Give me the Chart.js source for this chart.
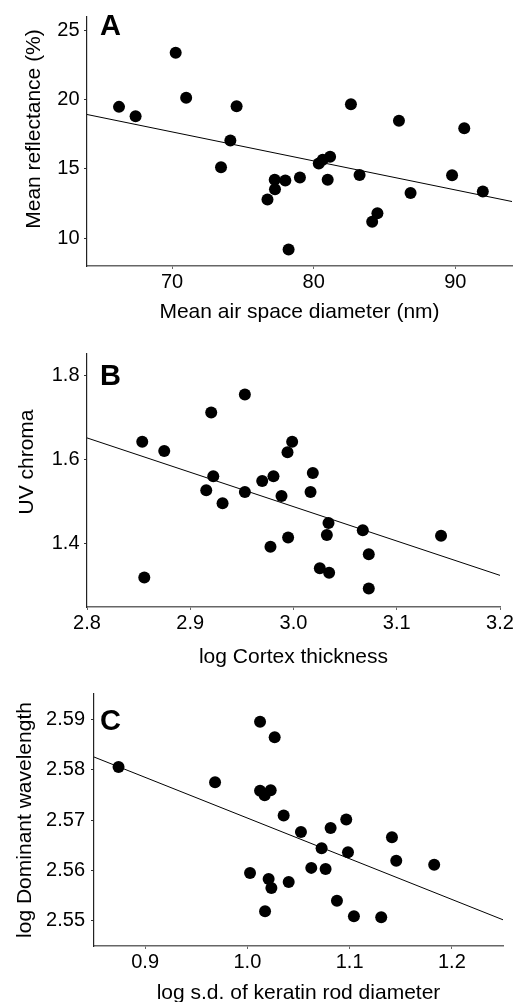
<!DOCTYPE html>
<html>
<head>
<meta charset="utf-8">
<script src="https://cdn.jsdelivr.net/npm/chart.js@4"></script>
<style>
  html, body { margin: 0; padding: 0; background: #fff; overflow: hidden; }
  body { width: 524px; height: 1002px; position: relative; }
  .panel { position: absolute; left: 0; }
  .letter { position: absolute; left: 100px; font: bold 29px "Liberation Sans", Arial, sans-serif; line-height: 1; color: #000; }
  .ytitle { position: absolute; font: 21px "Liberation Sans", Arial, sans-serif; line-height: 1; color: #000;
            white-space: nowrap; transform: translate(-50%, -50%) rotate(-90deg); }
</style>
</head>
<body>
<div class="panel" id="wrapA" style="top:0px"><canvas id="chartA"></canvas></div>
<div class="panel" id="wrapB" style="top:330px"><canvas id="chartB"></canvas></div>
<div class="panel" id="wrapC" style="top:670px"><canvas id="chartC"></canvas></div>
<div class="letter" style="top:11px">A</div>
<div class="letter" style="top:361px">B</div>
<div class="letter" style="top:706px">C</div>
<div class="ytitle" style="left:32px; top:129px">Mean reflectance (%)</div>
<div class="ytitle" style="left:25px; top:462px">UV chroma</div>
<div class="ytitle" style="left:23px; top:820px">log Dominant wavelength</div>
<script>
// Panel A - reflectance vs air space diameter
const airSpace = [66.26, 67.43, 70.26, 71.0, 74.56, 74.12, 73.46, 77.25, 77.27, 76.74, 78.0, 78.23, 79.03,
  80.36, 80.64, 81.16, 80.99, 82.63, 83.24, 84.13, 84.5, 86.02, 86.84, 89.77, 90.63, 91.94];
const reflectance = [19.48, 18.81, 23.38, 20.14, 19.52, 17.05, 15.12, 14.22, 13.53, 12.79, 14.17, 9.19, 14.39,
  15.4, 15.66, 15.88, 14.22, 19.67, 14.57, 11.19, 11.81, 18.48, 13.27, 14.55, 17.93, 13.38];
const fitA = [{ x: 64, y: 18.93 }, { x: 94, y: 12.65 }];
const ticksAX = [70, 80, 90];
const ticksAY = [10, 15, 20, 25];

// Panel B - UV chroma vs log cortex thickness
const cortex = [2.8535, 2.8748, 2.8555, 2.9203, 2.9529, 2.9223, 2.9155, 2.9313, 2.9529, 2.9697, 2.9806, 2.9777, 2.9884,
  2.9942, 2.9987, 2.9948, 3.0187, 3.0165, 3.0339, 3.0323, 3.0255, 3.0345, 3.0671, 3.0729, 3.0729, 3.1429];
const uvChroma = [1.642, 1.62, 1.32, 1.711, 1.754, 1.56, 1.527, 1.496, 1.523, 1.549, 1.56, 1.393, 1.513,
  1.617, 1.642, 1.415, 1.568, 1.523, 1.449, 1.421, 1.342, 1.331, 1.432, 1.375, 1.294, 1.419];
const fitB = [{ x: 2.8, y: 1.651 }, { x: 3.2, y: 1.325 }];
const ticksBX = ['2.8', '2.9', '3.0', '3.1', '3.2'];
const ticksBY = ['1.4', '1.6', '1.8'];

// Panel C - log dominant wavelength vs log s.d. of keratin rod diameter
const rodSd = [0.874, 0.9684, 1.0124, 1.0267, 1.0124, 1.0169, 1.0228, 1.0355, 1.0524, 1.0814, 1.0967, 1.0726, 1.0984,
  1.1414, 1.1456, 1.1827, 1.0026, 1.0208, 1.0235, 1.0404, 1.0625, 1.0765, 1.0173, 1.0876, 1.1042, 1.1309];
const domWave = [2.5805, 2.5775, 2.5895, 2.5864, 2.5758, 2.5749, 2.5759, 2.5709, 2.5676, 2.5684, 2.5701, 2.5644, 2.5636,
  2.5666, 2.5619, 2.5611, 2.5595, 2.5583, 2.5565, 2.5577, 2.5605, 2.5603, 2.5519, 2.554, 2.5509, 2.5507];
const fitC = [{ x: 0.85, y: 2.5825 }, { x: 1.25, y: 2.5502 }];
const ticksCX = ['0.9', '1.0', '1.1', '1.2'];
const ticksCY = ['2.55', '2.56', '2.57', '2.58', '2.59'];

const FONT = '"Liberation Sans", Arial, sans-serif';

function makePanel(id, p) {
  const canvas = document.getElementById(id);
  canvas.style.width = '524px';
  canvas.style.height = p.height + 'px';
  canvas.width = 524;
  canvas.height = p.height;

  const points = p.xs.map((x, i) => ({ x: x, y: p.ys[i] }));
  const xTickVals = p.xTicks.map(Number);
  const yTickVals = p.yTicks.map(Number);

  new Chart(canvas, {
    type: 'scatter',
    data: {
      datasets: [
        {
          data: points,
          backgroundColor: '#000',
          borderColor: '#000',
          borderWidth: 0,
          pointRadius: 6,
          pointHoverRadius: 6,
          order: 1,
        },
        {
          type: 'line',
          data: p.fit,
          borderColor: '#000',
          borderWidth: 1,
          pointRadius: 0,
          fill: false,
          order: 0,
        },
      ],
    },
    options: {
      responsive: false,
      animation: false,
      devicePixelRatio: 1,
      layout: {
        padding: { top: p.top, right: 524 - p.right, bottom: 0, left: 0 },
      },
      plugins: { legend: { display: false }, tooltip: { enabled: false } },
      scales: {
        x: {
          type: 'linear',
          min: p.xMin,
          max: p.xMax,
          afterBuildTicks: (s) => { s.ticks = xTickVals.map((v) => ({ value: v })); },
          afterFit: (s) => { s.height = p.height - p.bottom; },
          ticks: {
            color: '#000',
            font: { family: FONT, size: 20 },
            padding: 1,
            maxRotation: 0,
            autoSkip: false,
            callback: (v, i) => p.xTicks[i],
          },
          grid: { drawOnChartArea: false, drawTicks: true, tickLength: 3, color: '#666' },
          border: { color: '#666', width: 1.5 },
          title: {
            display: true,
            text: p.xTitle,
            color: '#000',
            font: { family: FONT, size: 21 },
            padding: { top: 0, bottom: p.xTitlePad },
          },
        },
        y: {
          type: 'linear',
          min: p.yMin,
          max: p.yMax,
          afterBuildTicks: (s) => { s.ticks = yTickVals.map((v) => ({ value: v })); },
          afterFit: (s) => { s.width = p.left; },
          ticks: {
            color: '#000',
            font: { family: FONT, size: 20 },
            padding: p.yTickPad,
            autoSkip: false,
            callback: (v, i) => p.yTicks[i],
          },
          grid: { drawOnChartArea: false, drawTicks: true, tickLength: 3, color: '#333' },
          border: { color: '#222', width: 1.2 },
          title: { display: false },
        },
      },
    },
  });
}

makePanel('chartA', {
  xs: airSpace, ys: reflectance, fit: fitA,
  xTicks: ticksAX, yTicks: ticksAY,
  xMin: 64, xMax: 94, yMin: 8, yMax: 26,
  height: 326, top: 13, bottom: 266, left: 87, right: 512,
  xTitle: 'Mean air space diameter (nm)',
  xTitlePad: 1, yTickPad: 4.5,
});

makePanel('chartB', {
  xs: cortex, ys: uvChroma, fit: fitB,
  xTicks: ticksBX, yTicks: ticksBY,
  xMin: 2.8, xMax: 3.2, yMin: 1.25, yMax: 1.85,
  height: 340, top: 24, bottom: 277, left: 87, right: 500,
  xTitle: 'log Cortex thickness',
  xTitlePad: 0, yTickPad: 4.5,
});

makePanel('chartC', {
  xs: rodSd, ys: domWave, fit: fitC,
  xTicks: ticksCX, yTicks: ticksCY,
  xMin: 0.85, xMax: 1.25, yMin: 2.545, yMax: 2.595,
  height: 340, top: 24, bottom: 276, left: 94, right: 503,
  xTitle: 'log s.d. of keratin rod diameter',
  xTitlePad: 4, yTickPad: 6,
});
</script>
</body>
</html>
